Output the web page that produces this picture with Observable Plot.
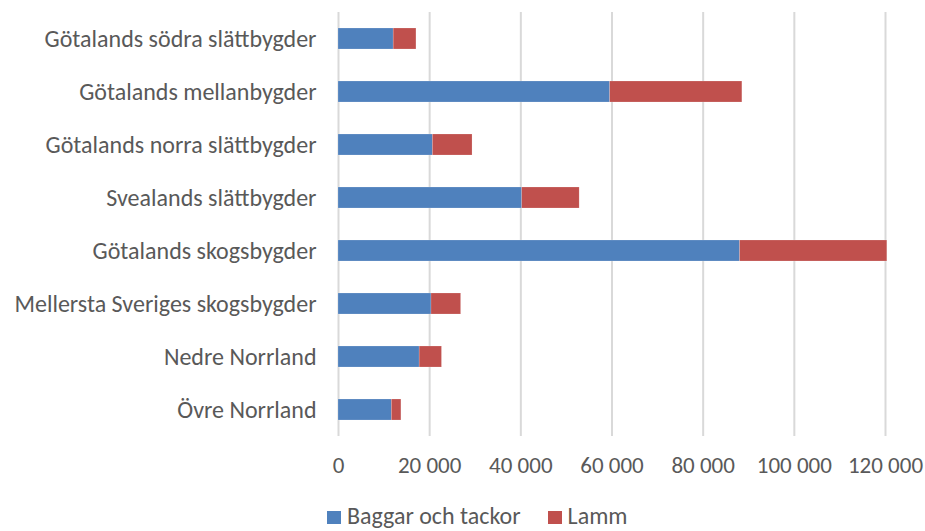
<!DOCTYPE html>
<html>
<head>
<meta charset="utf-8">
<script src="https://cdn.jsdelivr.net/npm/d3@7"></script>
<script src="https://cdn.jsdelivr.net/npm/@observablehq/plot@0.6"></script>
<style>
  body { margin: 0; background: #fff; font-family: Carlito, Lato, sans-serif; overflow: hidden; }
  #chart { width: 925px; height: 531px; position: relative; overflow: hidden; }
  #chart svg { position: absolute; top: 0; left: 0; }
  .legend { position: absolute; top: 504px; left: 327px; font-size: 24px; line-height: 24px; color: #595959; white-space: nowrap; }
  .legend .sw { width: 14px; height: 13px; display: inline-block; vertical-align: baseline; margin-right: 6px; }
  .legend .item { display: inline; margin-right: 27px; }
</style>
</head>
<body>
<div id="chart"></div>
<script>
const categories = [
  "Götalands södra slättbygder",
  "Götalands mellanbygder",
  "Götalands norra slättbygder",
  "Svealands slättbygder",
  "Götalands skogsbygder",
  "Mellersta Sveriges skogsbygder",
  "Nedre Norrland",
  "Övre Norrland"
];
const series = ["Baggar och tackor", "Lamm"];
const baggarOchTackor = [12100, 59600, 20700, 40300, 88100, 20400, 17800, 11700];
const lamm = [5000, 29000, 8700, 12600, 32300, 6500, 4900, 2100];
const xTicks = [0, 20000, 40000, 60000, 80000, 100000, 120000];
const colors = ["#4F81BD", "#C0504D"];

const data = [];
categories.forEach((c, i) => {
  data.push({category: c, series: series[0], value: baggarOchTackor[i]});
  data.push({category: c, series: series[1], value: lamm[i]});
});

const fmt = v => v === 0 ? "0" : d3.format(",")(v).replace(/,/g, " ");

const plot = Plot.plot({
  width: 925,
  height: 500,
  marginLeft: 338,
  marginRight: 40,
  marginTop: 12,
  marginBottom: 64,
  style: { fontFamily: "Carlito, Lato, sans-serif", fontSize: "24px", color: "#595959", background: "transparent", overflow: "visible" },
  x: { domain: [0, 120000], ticks: xTicks, tickFormat: fmt, label: null },
  y: { domain: categories, paddingInner: 0.6, paddingOuter: 0.3, label: null },
  color: { domain: series, range: colors },
  marks: [
    Plot.gridX(xTicks, { stroke: "#d9d9d9", strokeOpacity: 1, strokeWidth: 2 }),
    Plot.barX(data, Plot.stackX({ x: "value", y: "category", fill: "series", order: series, stroke: "#fff", strokeOpacity: 0.35, strokeWidth: 0.5 })),
    Plot.axisX({ ticks: xTicks, tickFormat: fmt, tickSize: 0, tickPadding: 20, fontSize: 23, fontVariant: "normal", fill: "#595959", label: null }),
    Plot.axisY({ tickSize: 0, tickPadding: 22, fontSize: 24, fill: "#595959", label: null })
  ]
});
document.getElementById("chart").appendChild(plot);

const legend = document.createElement("div");
legend.className = "legend";
series.forEach((s, i) => {
  const item = document.createElement("span");
  item.className = "item";
  const sw = document.createElement("span");
  sw.className = "sw";
  sw.style.background = colors[i];
  item.appendChild(sw);
  item.appendChild(document.createTextNode(s));
  legend.appendChild(item);
});
document.getElementById("chart").appendChild(legend);
</script>
</body>
</html>
